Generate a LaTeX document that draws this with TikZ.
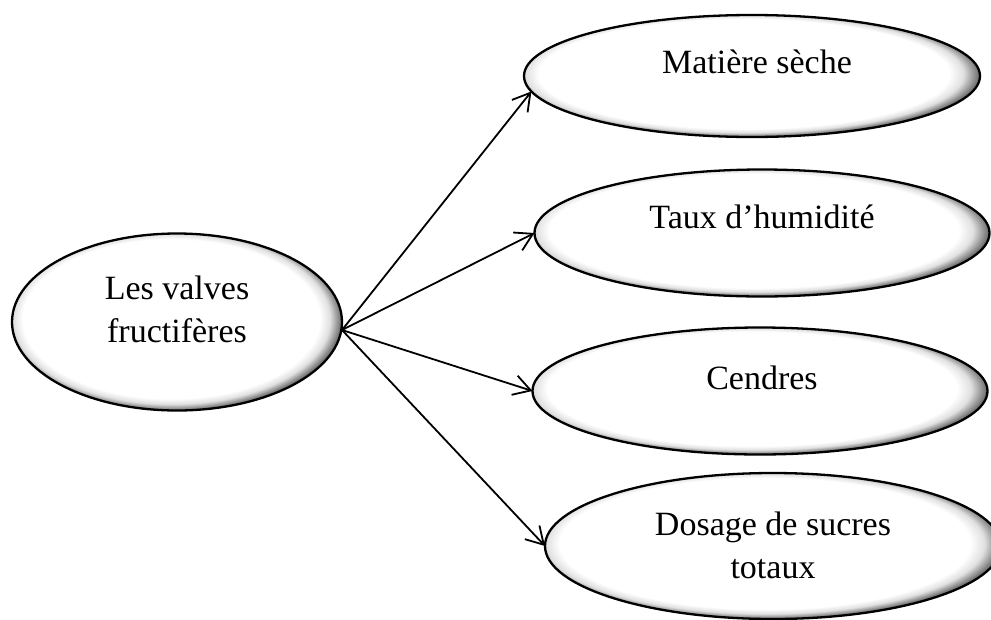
\documentclass[tikz,border=0pt]{standalone}
\usepackage{fontspec}
\setmainfont{Liberation Serif}
\usetikzlibrary{shapes.geometric,arrows.meta}

% white face fading to grey at the rim, heavier towards the lower right
\pgfdeclareradialshading{rimshade}{\pgfpoint{-1.6bp}{1.6bp}}{%
  color(0bp)=(white); color(22.5bp)=(white); color(24bp)=(black!12);
  color(25.6bp)=(black!55); color(50bp)=(black!55)}

\begin{document}
\begin{tikzpicture}[x=1pt,y=-1pt,
  bubble/.style={ellipse, draw=black, line width=2.3pt, shading=rimshade,
    inner sep=0pt, outer sep=0pt},
  caption/.style={font=\fontsize{34}{42.5}\selectfont, anchor=base,
    align=center, inner sep=0pt},
  arr/.style={line width=1.8pt, -{Straight Barb[length=17pt,width=20pt,line width=1.8pt]}}]

\useasboundingbox (0,0) rectangle (991,619);

% source
\node[bubble, minimum width=330pt, minimum height=177pt] (src) at (177,322) {};
\node[caption] (tsrc) at (177,342) {Les valves\\fructifères};

% targets
\node[bubble, minimum width=456pt, minimum height=122pt] (e1) at (752,76) {};
\node[caption] (t1) at (757,73) {Matière sèche};

\node[bubble, minimum width=455pt, minimum height=127pt] (e2) at (762,233) {};
\node[caption] (t2) at (762,228) {Taux d’humidité};

\node[bubble, minimum width=455pt, minimum height=127pt] (e3) at (760,391) {};
\node[caption] (t3) at (762,389) {Cendres};

\node[bubble, minimum width=456pt, minimum height=146pt] (e4) at (773,546) {};
\node[caption] (t4) at (773,578) {Dosage de sucres\\totaux};

% connectors
\coordinate (hub) at ([yshift=-8pt]src.east);
\draw[arr] (hub) -- (e1.184);
\draw[arr] (hub) -- (e2.west);
\draw[arr] (hub) -- (e3.west);
\draw[arr] (hub) -- (e4.west);
\end{tikzpicture}
\end{document}
